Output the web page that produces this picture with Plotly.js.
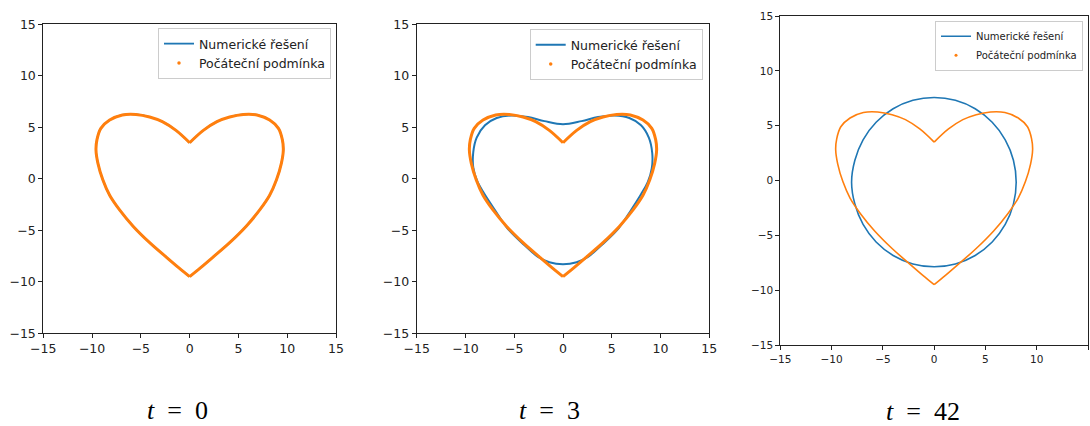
<!DOCTYPE html>
<html>
<head>
<meta charset="utf-8">
<script src="https://cdn.plot.ly/plotly-3.0.1.min.js"></script>
<style>
  html, body { margin: 0; padding: 0; background: #fff; }
  #chart { width: 1090px; height: 426px; }
</style>
</head>
<body>
<div id="chart"></div>
<script>
// ---- data ----
const tickValues = [-15, -10, -5, 0, 5, 10, 15];
const panelTitles = ["t = 0", "t = 3", "t = 42"];
const seriesNames = ["Numerické řešení", "Počáteční podmínka"];

// initial condition (heart), right half: top cusp -> bottom tip
const heartRightX = [0, 1.4, 2.8, 4.1, 5.5, 6.9, 8.2, 9.1, 9.5, 9.6, 9.4, 8.9, 8.2, 7.2, 5.8, 4.1, 2.4, 1.1, 0];
const heartRightY = [3.5, 4.7, 5.55, 6.0, 6.25, 6.2, 5.7, 4.9, 3.8, 2.8, 1.5, -0.1, -1.6, -3.0, -4.6, -6.2, -7.6, -8.65, -9.5];
// left half: top cusp -> bottom tip
const heartLeftX = [0, -1.4, -2.8, -4.1, -5.5, -6.9, -8.2, -9.1, -9.5, -9.6, -9.4, -8.9, -8.2, -7.2, -5.8, -4.1, -2.4, -1.1, 0];
const heartLeftY = [3.5, 4.7, 5.55, 6.0, 6.25, 6.2, 5.7, 4.9, 3.8, 2.8, 1.5, -0.1, -1.6, -3.0, -4.6, -6.2, -7.6, -8.65, -9.5];

// numerical solution at t = 3
const numT3X = [0, 1.9, 3.6, 5.3, 6.8, 8.0, 8.8, 9.15, 9.1, 8.7, 8.0, 7.0, 5.7, 4.0, 2.6, 1.4, 0, -1.4, -2.6, -4.0, -5.7, -7.0, -8.1, -8.8, -9.2, -9.2, -8.85, -8.0, -6.8, -5.3, -3.6, -1.9, 0];
const numT3Y = [5.3, 5.6, 6.0, 6.15, 5.9, 5.2, 4.0, 2.5, 1.0, -0.3, -1.5, -3.0, -4.8, -6.4, -7.55, -8.1, -8.3, -8.1, -7.55, -6.4, -4.8, -3.0, -1.4, -0.2, 1.1, 2.6, 4.0, 5.2, 5.9, 6.15, 6.0, 5.6, 5.3];

// numerical solution at t = 42 (near-circle)
const numT42X = [8.0, 7.73, 6.93, 5.66, 4.0, 2.07, 0, -2.07, -4.0, -5.66, -6.93, -7.73, -8.05, -7.73, -6.93, -5.66, -4.0, -2.07, 0, 2.07, 4.0, 5.66, 6.93, 7.73, 8.0];
const numT42Y = [-0.15, 1.85, 3.71, 5.31, 6.54, 7.31, 7.57, 7.31, 6.54, 5.31, 3.71, 1.85, -0.15, -2.15, -4.01, -5.61, -6.84, -7.61, -7.87, -7.61, -6.84, -5.61, -4.01, -2.15, -0.15];

// ---- styling ----
const BLUE = "#1f77b4", ORANGE = "#ff7f0e", INK = "#222";
const traces = [];

function addPanel(idx, blueCurves, orangeWidth, blueWidth) {
  const xa = idx === 1 ? "x" : "x" + idx;
  const ya = idx === 1 ? "y" : "y" + idx;
  const lg = idx === 1 ? "legend" : "legend" + idx;
  blueCurves.forEach((c, k) => {
    traces.push({
      x: c[0], y: c[1], xaxis: xa, yaxis: ya, mode: "lines",
      line: {color: BLUE, width: blueWidth, shape: "spline", smoothing: 1},
      name: seriesNames[0], legend: lg, showlegend: k === 0, hoverinfo: "skip"
    });
  });
  [[heartRightX, heartRightY], [heartLeftX, heartLeftY]].forEach(c => {
    traces.push({
      x: c[0], y: c[1], xaxis: xa, yaxis: ya, mode: "lines",
      line: {color: ORANGE, width: orangeWidth, shape: "spline", smoothing: 1},
      showlegend: false, hoverinfo: "skip"
    });
  });
  traces.push({
    x: [null], y: [null], xaxis: xa, yaxis: ya, mode: "markers",
    marker: {color: ORANGE, size: idx === 3 ? 3 : 3.5},
    name: seriesNames[1], legend: lg, showlegend: true
  });
}

addPanel(1, [[heartRightX, heartRightY], [heartLeftX, heartLeftY]], 3, 1.8);
addPanel(2, [[numT3X, numT3Y]], 3, 2);
addPanel(3, [[numT42X, numT42Y]], 1.6, 1.6);

function axis(domain, anchor, fs) {
  return {
    domain: domain, anchor: anchor, range: [-15, 15], tickmode: "array", tickvals: tickValues,
    ticks: "outside", ticklen: 4, tickwidth: 1, tickcolor: INK,
    showline: true, mirror: true, linecolor: INK, linewidth: 1,
    showgrid: false, zeroline: false, fixedrange: true,
    tickfont: {family: "DejaVu Sans", size: fs, color: INK}
  };
}
function legend(xRight, yTop, fs) {
  return {
    x: xRight, y: yTop, xanchor: "right", yanchor: "top",
    bgcolor: "rgba(255,255,255,0.8)", bordercolor: "#cccccc", borderwidth: 1,
    font: {family: "DejaVu Sans", size: fs, color: INK}, tracegroupgap: 0, itemwidth: 30
  };
}
const W = 1090, H = 426;
const titleFont = {family: "Liberation Serif", size: 26, color: "#000"};
function titleText(s) {
  const parts = s.split(" = ");
  return "<i>" + parts[0] + "</i>\u00A0\u00A0=\u00A0\u00A0" + parts[1];
}

const layout = {
  width: W, height: H, margin: {l: 0, r: 0, t: 0, b: 0},
  paper_bgcolor: "#fff", plot_bgcolor: "#fff", showlegend: true,
  xaxis: axis([43.3 / W, 336 / W], "y", 12.5),
  yaxis: axis([1 - 333.3 / H, 1 - 24.3 / H], "x", 12.5),
  xaxis2: axis([416.7 / W, 709.3 / W], "y2", 12.5),
  yaxis2: axis([1 - 333.3 / H, 1 - 24.3 / H], "x2", 12.5),
  xaxis3: axis([780.3 / W, 1088 / W], "y3", 10.5),
  yaxis3: axis([1 - 345 / H, 1 - 16 / H], "x3", 10.5),
  legend: legend(331 / W, 1 - 28 / H, 12.5),
  legend2: legend(702.7 / W, 1 - 29 / H, 12.5),
  legend3: legend(1083 / W, 1 - 20.7 / H, 10),
  annotations: [
    {text: titleText(panelTitles[0]), x: 177 / W, y: 1 - 410 / H},
    {text: titleText(panelTitles[1]), x: 549 / W, y: 1 - 410 / H},
    {text: titleText(panelTitles[2]), x: 923 / W, y: 1 - 411 / H}
  ].map(a => Object.assign(a, {xref: "paper", yref: "paper", xanchor: "center", yanchor: "middle", showarrow: false, font: titleFont}))
};

Plotly.newPlot("chart", traces, layout, {staticPlot: true, displayModeBar: false});
</script>
</body>
</html>
